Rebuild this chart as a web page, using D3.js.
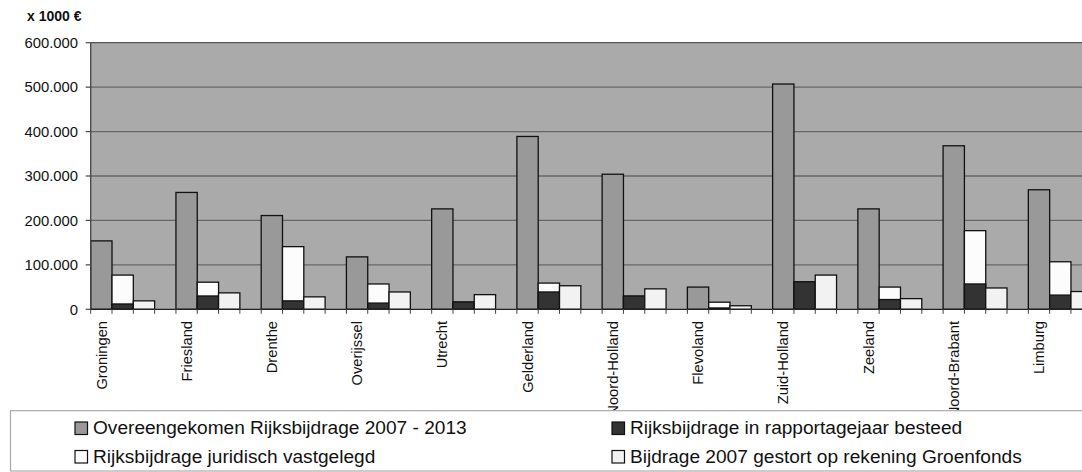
<!DOCTYPE html>
<html><head><meta charset="utf-8">
<script src="https://cdn.jsdelivr.net/npm/d3@7/dist/d3.min.js"></script>
<style>
html,body{margin:0;padding:0;background:#fff;overflow:hidden}
svg{display:block;font-family:"Liberation Sans",Arial,sans-serif}
</style></head><body>
<script>
const categories = ["Groningen","Friesland","Drenthe","Overijssel","Utrecht","Gelderland","Noord-Holland","Flevoland","Zuid-Holland","Zeeland","Noord-Brabant","Limburg"];
const overeengekomen = [154000,263000,211000,118000,226000,389000,304000,50000,507000,226000,368000,269000];
const juridisch = [77000,61000,141000,57000,16000,59000,29000,16000,61000,50000,177000,107000];
const besteed = [12000,30000,19000,14000,16500,39000,30000,3000,62000,22000,57000,32000];
const groenfonds = [19000,37000,28000,39000,33000,53000,46000,8000,77000,24000,48000,40000];
const yTicks = [0,100000,200000,300000,400000,500000,600000];
const legendLabels = ["Overeengekomen Rijksbijdrage 2007 - 2013","Rijksbijdrage in rapportagejaar besteed","Rijksbijdrage juridisch vastgelegd","Bijdrage 2007 gestort op rekening Groenfonds"];

(function(){
const W=1082,H=472;
const svg=d3.select("body").append("svg").attr("width",W).attr("height",H);
const pLeft=90.7, step=85.24, pTop=42.7, pBottom=309.3;
const x=d3.scaleBand().domain(categories).range([pLeft,pLeft+step*categories.length]).paddingInner(0).paddingOuter(0);
const bw=x.bandwidth()/4;
const y=d3.scaleLinear().domain([0,600000]).range([pBottom,pTop]);
const loc=d3.formatLocale({decimal:",",thousands:".",grouping:[3],currency:["€",""]});
const fmt=loc.format(",.0f");
const xEnd=x.range()[1];

svg.append("rect").attr("x",pLeft).attr("y",pTop).attr("width",xEnd-pLeft).attr("height",pBottom-pTop).attr("fill","#aaaaaa");
svg.append("g").selectAll("line").data(yTicks.filter(d=>d>0)).join("line")
  .attr("x1",pLeft).attr("x2",xEnd).attr("y1",d=>y(d)).attr("y2",d=>y(d))
  .attr("stroke",d=>d===600000?"#555":"#666").attr("stroke-width",1.3);

const series=[
  {vals:overeengekomen,slot:0,fill:"#999999"},
  {vals:juridisch,slot:1,fill:"#fcfcfc"},
  {vals:besteed,slot:1,fill:"#333333"},
  {vals:groenfonds,slot:2,fill:"#f2f2f2"}
];
series.forEach(s=>{
  svg.append("g").selectAll("rect").data(categories).join("rect")
    .attr("x",(c)=>x(c)+s.slot*bw).attr("width",bw)
    .attr("y",(c,i)=>y(s.vals[i])).attr("height",(c,i)=>pBottom-y(s.vals[i]))
    .attr("fill",s.fill).attr("stroke","#111").attr("stroke-width",1.3);
});

svg.append("line").attr("x1",pLeft).attr("x2",pLeft).attr("y1",pTop).attr("y2",pBottom).attr("stroke","#444").attr("stroke-width",1.3);
svg.append("g").selectAll("line").data(yTicks).join("line")
  .attr("x1",pLeft-5).attr("x2",pLeft).attr("y1",d=>y(d)).attr("y2",d=>y(d)).attr("stroke","#444").attr("stroke-width",1.2);
svg.append("g").selectAll("text").data(yTicks).join("text")
  .attr("x",78).attr("y",d=>y(d)).attr("dy","0.36em").attr("text-anchor","end")
  .attr("font-size",14.8).attr("fill","#111").text(d=>fmt(d));
svg.append("line").attr("x1",pLeft).attr("x2",xEnd).attr("y1",pBottom).attr("y2",pBottom).attr("stroke","#222").attr("stroke-width",1.3);
const slots=[];
categories.forEach(c=>{for(let k=0;k<4;k++) slots.push(x(c)+k*bw);});
slots.push(xEnd);
svg.append("g").selectAll("line").data(slots).join("line")
  .attr("x1",d=>d).attr("x2",d=>d).attr("y1",pBottom).attr("y2",pBottom+4.5).attr("stroke","#444").attr("stroke-width",1);
svg.append("g").selectAll("text").data(categories).join("text")
  .attr("transform",c=>`translate(${x(c)+bw/2},321) rotate(-90)`)
  .attr("dy","0.35em").attr("text-anchor","end").attr("font-size",14.7).attr("fill","#111").text(c=>c);

svg.append("text").attr("x",27).attr("y",20.5).attr("font-size",14).attr("font-weight","bold").attr("fill","#111").text("x 1000 €");

svg.append("rect").attr("x",10.5).attr("y",410.7).attr("width",W+20).attr("height",60.3).attr("fill","#fff").attr("stroke","#aaa").attr("stroke-width",1.2);
const lpos=[[75,422],[612,422],[75,450.5],[612,450.5]];
const lfill=["#999999","#333333","#fcfcfc","#f2f2f2"];
legendLabels.forEach((t,i)=>{
  svg.append("rect").attr("x",lpos[i][0]).attr("y",lpos[i][1]).attr("width",12.5).attr("height",12.5)
    .attr("fill",lfill[i]).attr("stroke","#111").attr("stroke-width",1.2);
  svg.append("text").attr("x",lpos[i][0]+18).attr("y",lpos[i][1]+12.3).attr("font-size",19.1).attr("fill","#111").text(t);
});
})();
</script>
</body></html>
